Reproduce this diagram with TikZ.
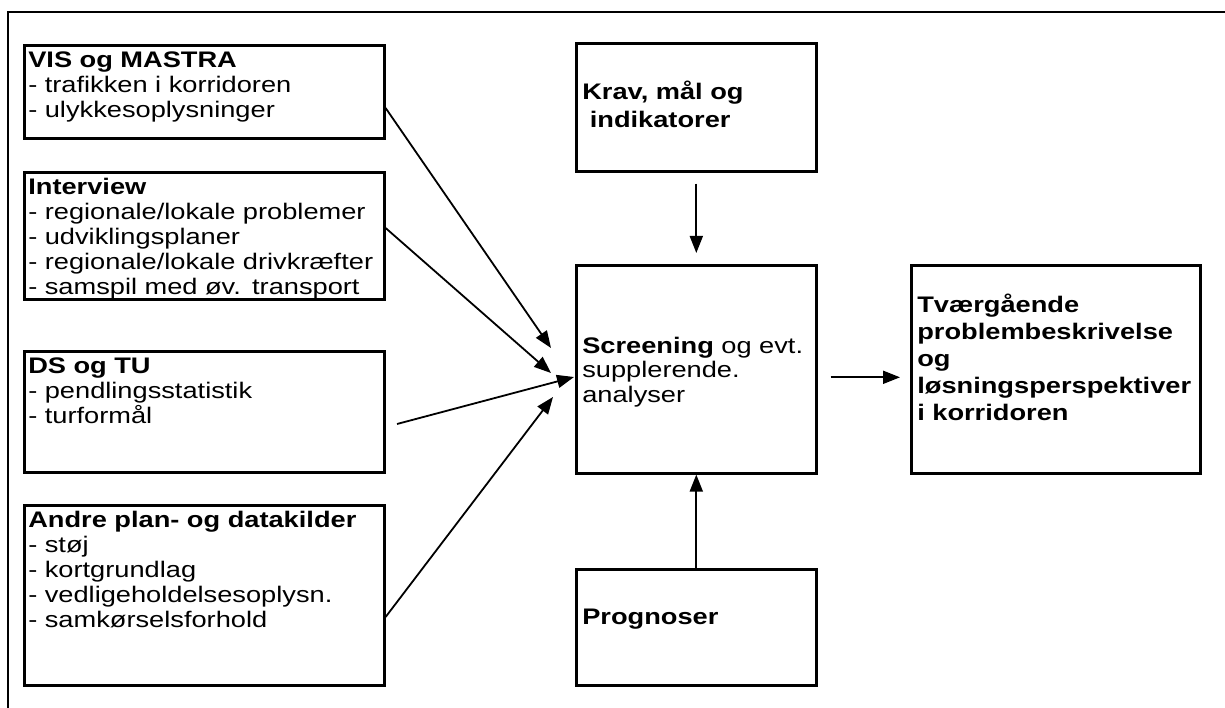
\documentclass[tikz,border=0pt]{standalone}
\usepackage{fontspec}
\setmainfont{Liberation Sans}[FakeStretch=1.21]
\usetikzlibrary{arrows.meta, positioning}

\begin{document}
\begin{tikzpicture}[
  x=1pt, y=-1pt,
  box/.style={draw, line width=2.6pt, anchor=north west, inner xsep=6pt, inner ysep=0pt, align=left},
  srcbox/.style={box, inner xsep=4pt, text width=352pt, text height=22pt, text depth=#1, font=\fontsize{22.5}{25}\selectfont},
  midbox/.style 2 args={box, text width=228pt, text height=#1, text depth=#2, font=\fontsize{22.5}{24.5}\selectfont},
  endbox/.style 2 args={box, text width=277pt, text height=#1, text depth=#2, font=\fontsize{22.5}{27}\selectfont\bfseries},
  arr/.style={-{Triangle[length=17pt, width=13pt]}, line width=1.8pt},
]
\useasboundingbox (0,0) rectangle (1225,708);

% Frame
\draw[line width=2.8pt] (8,720) -- (8,12) -- (1240,12);

% Sources
\node[srcbox=71pt] (vis) at (23,44) {\textbf{VIS og MASTRA}\\- trafikken i korridoren\\- ulykkesoplysninger};
\node[srcbox=105pt] (intv) at (23,171) {\textbf{Interview}\\- regionale/lokale problemer\\- udviklingsplaner\\- regionale/lokale drivkræfter\\- samspil med øv. transport};
\node[srcbox=99pt] (dstu) at (23,350) {\textbf{DS og TU}\\- pendlingsstatistik\\- turformål};
\node[srcbox=158pt] (andre) at (23,504) {\textbf{Andre plan- og datakilder}\\- støj\\- kortgrundlag\\- vedligeholdelsesoplysn.\\- samkørselsforhold};

% Middle column
\node[midbox={56pt}{72pt}, font=\fontsize{22.5}{28}\selectfont] (krav) at (575,42) {\textbf{Krav, mål og}\\\textbf{~indikatorer}};
\node[midbox={88pt}{120pt}] (scr) at (575,264) {\textbf{Screening} og evt.\\supplerende.\\analyser};
\node[midbox={55pt}{61pt}] (prog) at (575,568) {\textbf{Prognoser}};

% Result
\node[endbox={47pt}{161pt}] (tvr) at (910,264) {Tværgående\\problembeskrivelse\\og\\løsningsperspektiver\\i korridoren};

% Arrow ends
\coordinate (tipA) at (551,348);
\coordinate (tipB) at (551,373);
\coordinate (tipC) at (574,377);
\coordinate (tipD) at (553,397);
\coordinate (dsout) at (397,424);

% Connections
\draw[arr] (vis.east |- 0,108) -- (tipA);
\draw[arr] (intv.east |- 0,228) -- (tipB);
\draw[arr] (dsout) -- (tipC);
\draw[arr] (andre.east |- 0,617) -- (tipD);
\draw[arr, shorten <=11pt, shorten >=11pt] (krav) -- (scr);
\draw[arr] (prog) -- (scr);
\draw[arr, shorten <=13pt, shorten >=10pt] ([yshift=-8pt]scr.east) -- ([yshift=-8pt]tvr.west);

\end{tikzpicture}
\end{document}
